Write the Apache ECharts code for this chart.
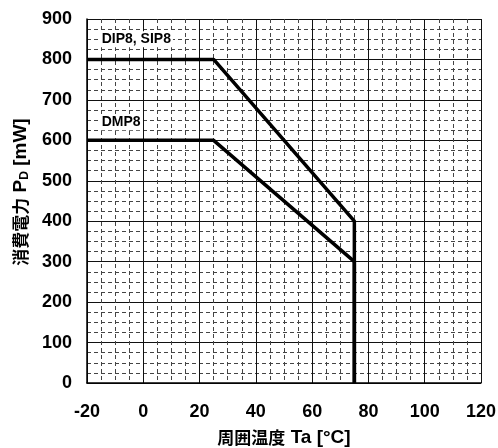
<!DOCTYPE html>
<html>
<head>
<meta charset="utf-8">
<script src="https://cdn.jsdelivr.net/npm/echarts@6/dist/echarts.min.js"></script>
<style>
  html, body { margin: 0; padding: 0; background: #fff; }
  #chart { width: 498px; height: 448px; }
</style>
</head>
<body>
<div id="chart"></div>
<script>
// Power derating curves: allowable dissipation vs ambient temperature
const tempDip = [-20, 25, 75, 75];
const powerDip = [800, 800, 400, 0];
const tempDmp = [-20, 25, 75, 75];
const powerDmp = [600, 600, 300, 0];

// Package name annotations [temperature, power, text]
const notes = [
  [-15.5, 850, 'DIP8, SIP8'],
  [-15.5, 645, 'DMP8']
];

const xTicks = { min: -20, max: 120, step: 20 };
const yTicks = { min: 0, max: 900, step: 100 };

const pair = (xs, ys) => xs.map((x, i) => [x, ys[i]]);

const numFont = '"Liberation Sans", Arial, sans-serif';
const cjkFont = '"Noto Sans CJK JP", sans-serif';

const gridDash = { color: '#444', width: 1, type: [4, 3] };

const nameRich = {
  j: { color: '#000', fontFamily: cjkFont, fontWeight: 'bold', fontSize: 17 },
  l: { color: '#000', fontFamily: numFont, fontWeight: 'bold', fontSize: 19 },
  s: { color: '#000', fontFamily: numFont, fontWeight: 'bold', fontSize: 12, padding: [9, 0, 0, 0] }
};

const chart = echarts.init(document.getElementById('chart'), null, { renderer: 'canvas' });
chart.setOption({
  animation: false,
  backgroundColor: '#fff',
  grid: { left: 87, right: 17, top: 19, bottom: 65, containLabel: false, outerBoundsMode: 'none' },
  xAxis: {
    type: 'value',
    min: xTicks.min, max: xTicks.max, interval: xTicks.step,
    minorTick: { show: false, splitNumber: 4 },
    minorSplitLine: { show: true, lineStyle: gridDash },
    splitLine: { show: true, lineStyle: { color: '#111', width: 1 } },
    axisLine: { show: true, onZero: false, lineStyle: { color: '#000', width: 1.5 } },
    axisTick: { show: false },
    axisLabel: { color: '#000', fontFamily: numFont, fontWeight: 'bold', fontSize: 18, margin: 20 },
    name: '{j|周囲温度}{l| Ta [°C]}',
    nameLocation: 'middle',
    nameGap: 45,
    nameTextStyle: { rich: nameRich }
  },
  yAxis: {
    type: 'value',
    min: yTicks.min, max: yTicks.max, interval: yTicks.step,
    minorTick: { show: false, splitNumber: 4 },
    minorSplitLine: { show: true, lineStyle: gridDash },
    splitLine: { show: true, lineStyle: { color: '#111', width: 1 } },
    axisLine: { show: true, onZero: false, lineStyle: { color: '#000', width: 1.5 } },
    axisTick: { show: false },
    axisLabel: { color: '#000', fontFamily: numFont, fontWeight: 'bold', fontSize: 18, margin: 15 },
    name: '{j|消費電力}{l| P}{s|D}{l| [mW]}',
    nameLocation: 'middle',
    nameRotate: 90,
    nameGap: 56,
    nameTextStyle: { rich: nameRich, padding: [0, 0, 0, 18] }
  },
  series: [
    {
      type: 'line',
      data: pair(tempDip, powerDip),
      symbol: 'none',
      lineStyle: { color: '#000', width: 3.5 },
      z: 5
    },
    {
      type: 'line',
      data: pair(tempDmp, powerDmp),
      symbol: 'none',
      lineStyle: { color: '#000', width: 3.5 },
      z: 5
    },
    {
      type: 'scatter',
      data: notes.map(n => ({ value: [n[0], n[1]], name: n[2] })),
      symbolSize: 0,
      itemStyle: { opacity: 1 },
      z: 6,
      label: {
        show: true,
        position: 'right',
        distance: 0,
        formatter: p => p.name,
        color: '#000',
        opacity: 1,
        fontFamily: numFont,
        fontWeight: 'bold',
        fontSize: 14,
        backgroundColor: '#fff',
        padding: [1, 2, 1, 2]
      }
    }
  ]
});
</script>
</body>
</html>
